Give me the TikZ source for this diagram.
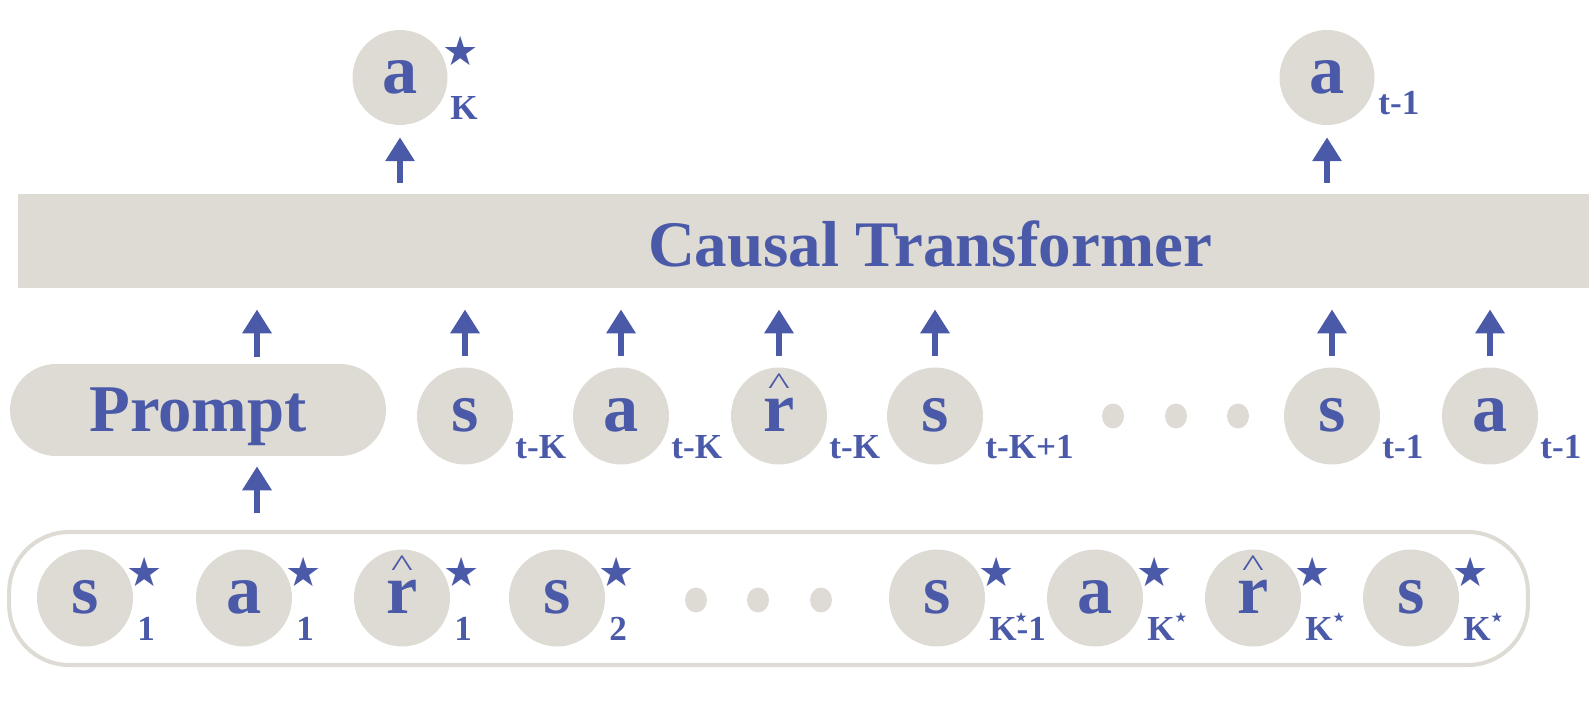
\documentclass[tikz,border=0pt]{standalone}
\usepackage{fontspec}
\setmainfont{Liberation Serif}
\newfontfamily\starfont{DejaVu Sans}
\usepackage{graphicx}
\usepackage{xcolor}
\usetikzlibrary{arrows.meta,shapes.geometric}
\definecolor{tfblue}{RGB}{75,90,168}
\definecolor{tfgray}{RGB}{221,219,212}
\newcommand{\tstar}{★}
\newcommand{\smallstar}{{\starfont\fontsize{8}{8}\selectfont ★}}
\newcommand{\kstar}{K\raisebox{10pt}{\smallstar}}
\newcommand{\kstarm}{K\rlap{\kern-1pt\raisebox{10pt}{\smallstar}}-1}
\newcommand{\rhat}{\ooalign{r\cr\hidewidth\raisebox{21.5pt}{\scalebox{1.1}[0.75]{\mdseries\fontsize{24}{24}\selectfont\textasciicircum}}\hidewidth\cr}}
\tikzset{
  token/.style={ellipse, fill=tfgray, minimum width=1.92cm, minimum height=1.94cm,
    inner sep=0pt, text=tfblue, font=\bfseries\fontsize{40}{40}\selectfont,
    text height=18pt, text depth=0pt},
  topken/.style={token, circle, minimum size=1.9cm},
  dot/.style={ellipse, fill=tfgray, minimum width=0.44cm, minimum height=0.5cm, inner sep=0pt},
  sub/.style={anchor=base west, inner sep=0pt, text=tfblue,
    font=\bfseries\fontsize{20}{20}\selectfont},
  starmark/.style={inner sep=0pt, text=tfblue, font=\starfont\fontsize{23}{23}\selectfont},
  up/.style={draw=tfblue, line width=3.6pt, -{Triangle[width=16pt,length=13.6pt]}},
}
\begin{document}
\begin{tikzpicture}[x=0.02cm, y=-0.02cm]
  \useasboundingbox (0,0) rectangle (1594,722);
  \node[fill=tfgray, minimum width=31.42cm, minimum height=1.88cm] (trans) at (803.5,241) {};
  \node[text=tfblue, font=\bfseries\fontsize{37}{37}\selectfont] (transtext) at (930,244) {Causal Transformer};
  % top outputs
  \node[topken] (aKt) at (400,77.5) {a};
  \node[starmark] (aKt-st) at ([shift={(61,-27)}]aKt.center) {\tstar};
  \node[sub] (aKt-sub) at ([shift={(50,42.5)}]aKt.center) {K};
  \node[topken] (at1) at (1327,77.5) {a};
  \node[sub] (at1-sub) at ([shift={(51,37)}]at1.center) {t-1};
  \draw[up, shorten <=6.2pt, shorten >=6.8pt] (trans.north -| aKt) -- (aKt);
  \draw[up, shorten <=6.2pt, shorten >=6.8pt] (trans.north -| at1) -- (at1);
  % prompt
  \node[fill=tfgray, rounded corners=0.92cm, minimum width=7.52cm, minimum height=1.84cm,
    text=tfblue, font=\bfseries\fontsize{38}{38}\selectfont, text depth=0pt] (prompt) at (198,410) {Prompt};
  \coordinate (pa) at (257,0);
  % middle tokens
  \foreach \n/\x/\l/\s in {ms1/465/s/t-K, ma1/621/a/t-K, mr1/779/\rhat/t-K,
      ms2/935/s/t-K+1, ms3/1332/s/t-1, ma3/1490/a/t-1}{
    \node[token] (\n) at (\x,416) {\l};
    \node[sub] (\n-sub) at ([shift={(50,42)}]\n.center) {\s};
    \draw[up, shorten <=6.2pt, shorten >=12pt] (\n) -- (\n |- trans.south);
  }
  \foreach \x [count=\i] in {1113,1176,1238}
    \node[dot] (mdot\i) at (\x,416) {};
  % context of the prompt
  \node[draw=tfgray, line width=2.3pt, rounded corners=1.2cm, minimum width=30.38cm,
    minimum height=2.66cm] (ctx) at (768.5,598.5) {};
  \foreach \n/\x/\l/\s in {s1/85/s/1, a1/244/a/1, r1/402/\rhat/1, s2/557/s/2,
      sk1/937/s/\kstarm, ak/1095/a/\kstar, rk/1253/\rhat/\kstar, sk/1411/s/\kstar}{
    \node[token] (\n) at (\x,598) {\l};
    \node[starmark] (\n-st) at ([shift={(60,-26)}]\n.center) {\tstar};
    \node[sub] (\n-sub) at ([shift={(52,42)}]\n.center) {\s};
  }
  \foreach \x [count=\i] in {696,758,821}
    \node[dot] (bdot\i) at (\x,600) {};
  \draw[up, shorten <=9.6pt, shorten >=5.7pt] (ctx.north -| pa) -- (prompt.south -| pa);
  \draw[up, shorten <=4pt, shorten >=12pt] (prompt.north -| pa) -- (trans.south -| pa);
\end{tikzpicture}
\end{document}
